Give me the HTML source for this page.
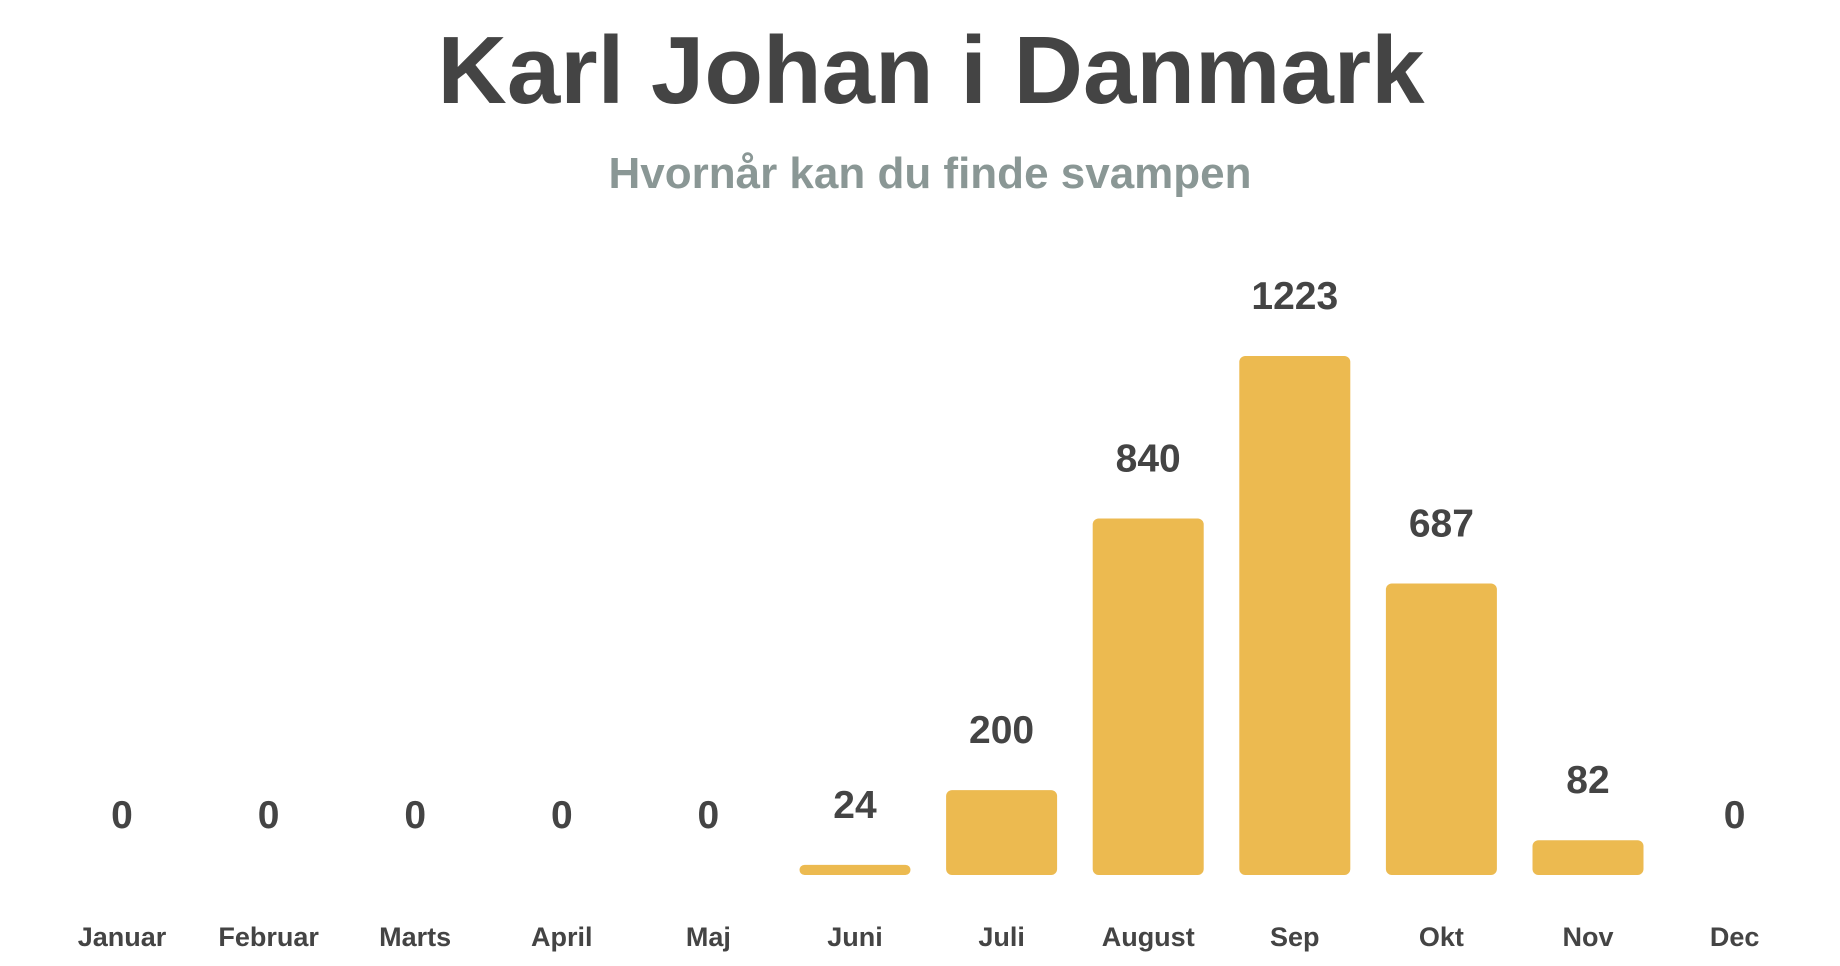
<!DOCTYPE html>
<html><head><meta charset="utf-8"><style>
html,body{margin:0;padding:0;background:#fff;}
svg{display:block;font-family:"Liberation Sans",Arial,sans-serif;font-weight:bold;}
</style></head><body>
<svg id="chart" width="1840" height="966" viewBox="0 0 1840 966">
<text x="931" y="103" text-anchor="middle" font-size="96" fill="#444">Karl Johan i Danmark</text>
<text x="930" y="188" text-anchor="middle" font-size="44" fill="#8a9795">Hvornår kan du finde svampen</text>
<g id="bars"></g>
</svg>
<script>
const months = ["Januar","Februar","Marts","April","Maj","Juni","Juli","August","Sep","Okt","Nov","Dec"];
const counts = [0,0,0,0,0,24,200,840,1223,687,82,0];
const NS = "http://www.w3.org/2000/svg";
const x0 = 122, step = 146.6, barW = 111, baseY = 875, scaleK = 519/1223;
const xScale = i => x0 + i*step;
const yScale = v => baseY - v*scaleK;
const g = document.getElementById("bars");
months.forEach((m,i)=>{
  const v = counts[i], cx = xScale(i), top = yScale(v), h = baseY - top;
  if (h > 0) {
    const r = document.createElementNS(NS,"rect");
    
    
    r.setAttribute("x", cx - barW/2);
    r.setAttribute("y", top);
    r.setAttribute("width", barW);
    r.setAttribute("height", h);
    r.setAttribute("rx", Math.min(6, h/2));
    r.setAttribute("fill", "#ecba50");
    g.appendChild(r);
  }
  const t = document.createElementNS(NS,"text");
  
  
  t.setAttribute("x", cx);
  t.setAttribute("y", top - 47);
  t.setAttribute("text-anchor", "middle");
  t.setAttribute("font-size", "39");
  t.setAttribute("fill", "#444");
  t.textContent = v;
  g.appendChild(t);
  const l = document.createElementNS(NS,"text");
  
  
  l.setAttribute("x", cx);
  l.setAttribute("y", 946);
  l.setAttribute("text-anchor", "middle");
  l.setAttribute("font-size", "27");
  l.setAttribute("fill", "#444");
  l.textContent = m;
  g.appendChild(l);
});
</script>
</body></html>
